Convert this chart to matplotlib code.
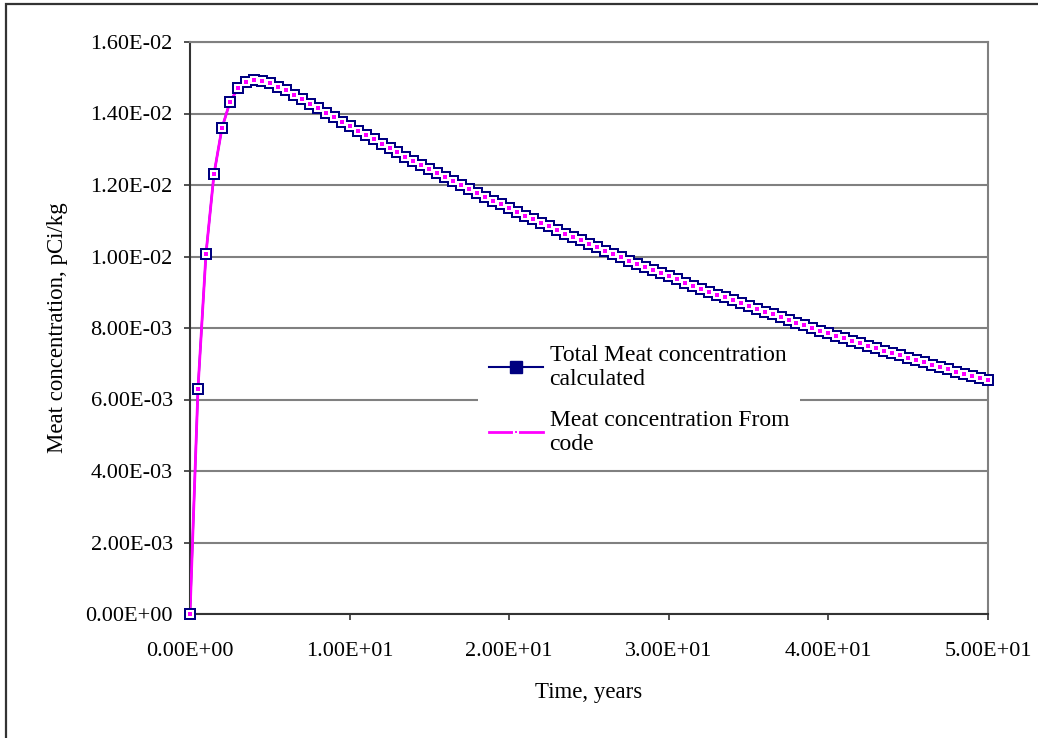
import matplotlib
matplotlib.use('Agg')
from matplotlib import pyplot as plt
from matplotlib.lines import Line2D
from matplotlib.patches import Rectangle
from matplotlib.ticker import FuncFormatter, MultipleLocator

plt.rcParams['font.family'] = ['Liberation Serif', 'DejaVu Serif']

# tiempo en años (cada 0.5)
years = [i * 0.5 for i in range(101)]

# concentracion, pCi/kg
meat_calc = [
    0.0, 0.006303, 0.010068, 0.012295, 0.013589, 0.014317, 0.014704, 0.014883,
    0.014937, 0.014915, 0.014849, 0.014755, 0.014645, 0.014527, 0.014404, 0.014278,
    0.014150, 0.014023, 0.013896, 0.013771, 0.013644, 0.013519, 0.013395, 0.013273,
    0.013151, 0.013031, 0.012912, 0.012793, 0.012676, 0.012560, 0.012445, 0.012331,
    0.012218, 0.012106, 0.011995, 0.011885, 0.011777, 0.011669, 0.011562, 0.011456,
    0.011351, 0.011247, 0.011144, 0.011042, 0.010941, 0.010841, 0.010742, 0.010643,
    0.010546, 0.010449, 0.010353, 0.010258, 0.010164, 0.010071, 0.009979, 0.009888,
    0.009797, 0.009707, 0.009619, 0.009531, 0.009443, 0.009357, 0.009271, 0.009186,
    0.009102, 0.009019, 0.008936, 0.008854, 0.008773, 0.008693, 0.008613, 0.008534,
    0.008456, 0.008379, 0.008302, 0.008226, 0.008151, 0.008076, 0.008002, 0.007929,
    0.007856, 0.007784, 0.007713, 0.007642, 0.007572, 0.007503, 0.007434, 0.007366,
    0.007299, 0.007232, 0.007166, 0.007100, 0.007035, 0.006971, 0.006907, 0.006844,
    0.006781, 0.006719, 0.006657, 0.006596, 0.006536,
]
# el codigo da los mismos valores
meat_code = list(meat_calc)

label_calc = 'Total Meat concentration\ncalculated'
label_code = 'Meat concentration From\ncode'

navy = '#000080'
magenta = '#FF00FF'
fs = 16.5

fig = plt.figure(figsize=(10.38, 7.38), dpi=100)
ax = fig.add_axes([190 / 1038, 1 - 614 / 738, 798 / 1038, 572 / 738])

# lineas primero, luego los marcadores en capas (estilo Excel)
ax.plot(years, meat_calc, color=navy, lw=1.5, zorder=3)
ax.plot(years, meat_code, color=magenta, lw=2, zorder=4)
ax.plot(years, meat_calc, ls='None', marker='s', ms=8.8, mfc=navy, mec=navy, mew=0,
        zorder=5, clip_on=False)
ax.plot(years, meat_calc, ls='None', marker='s', ms=5.3, mfc='white', mec='white', mew=0,
        zorder=6, clip_on=False)
ax.plot(years, meat_code, ls='None', marker='s', ms=2.9, mfc=magenta, mec=magenta, mew=0,
        zorder=7, clip_on=False)

ax.set_xlim(0, 50)
ax.set_ylim(0, 0.016)
ax.xaxis.set_major_locator(MultipleLocator(10))
ax.yaxis.set_major_locator(MultipleLocator(0.002))
ax.xaxis.set_major_formatter(FuncFormatter(lambda v, p: f'{v:.2E}'))
ax.yaxis.set_major_formatter(FuncFormatter(lambda v, p: f'{v:.2E}'))
ax.tick_params(axis='both', direction='out', length=4.5, width=1.2, color='#333333',
               labelsize=16, labelcolor='black')
ax.tick_params(axis='y', pad=8)
ax.tick_params(axis='x', pad=16)

ax.grid(axis='y', color='#808080', lw=1.5, zorder=1)
ax.set_axisbelow(True)
for s in ['top', 'right']:
    ax.spines[s].set_color('#808080')
    ax.spines[s].set_linewidth(1.5)
for s in ['left', 'bottom']:
    ax.spines[s].set_color('#333333')
    ax.spines[s].set_linewidth(1.5)

ax.set_xlabel('Time, years', fontsize=fs, labelpad=15)
ax.set_ylabel('Meat concentration, pCi/kg', fontsize=fs, labelpad=12)

handles = [
    Line2D([], [], color=navy, lw=1.5, marker='s', ms=8, mfc=navy, mec=navy),
    Line2D([], [], color=magenta, lw=2, marker='s', ms=3.4, mfc=magenta, mec='white', mew=1.5),
]
leg = ax.legend(handles, [label_calc, label_code], loc='upper left',
                bbox_to_anchor=((478 - 190) / 798, (614 - 334) / 572),
                frameon=True, fancybox=False, framealpha=1, facecolor='white',
                edgecolor='none', prop={'size': 17}, handlelength=2.3, handletextpad=0.28,
                labelspacing=0.85, borderpad=0.45, borderaxespad=0)
leg.set_zorder(10)

# marco exterior del grafico
fig.patches.append(Rectangle((6 / 1038, -0.1), 1.2, 1 - 4 / 738 + 0.1, transform=fig.transFigure,
                             fill=False, edgecolor='#333333', lw=1.6))

fig.savefig('out.png', dpi=100)
